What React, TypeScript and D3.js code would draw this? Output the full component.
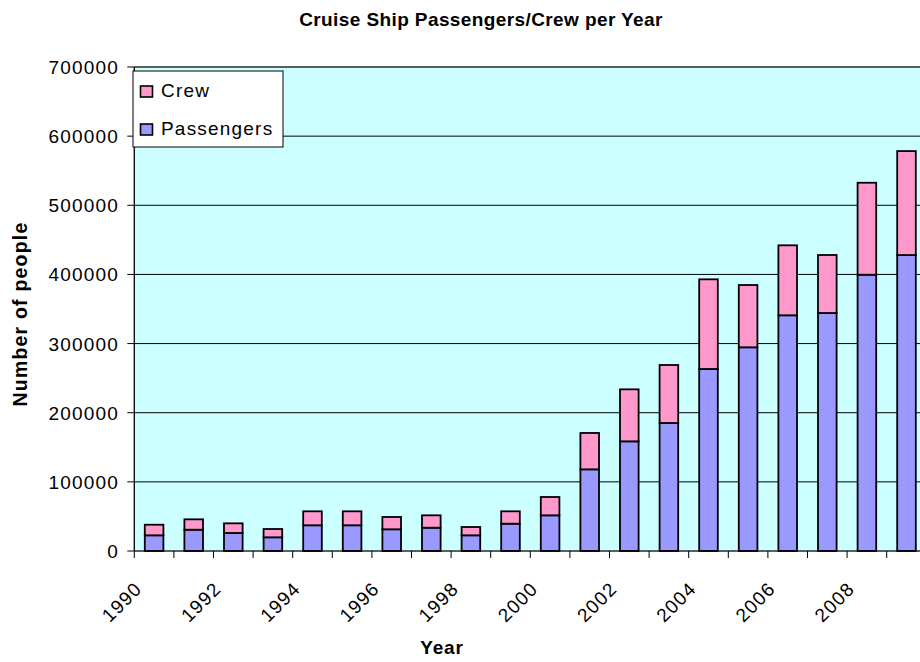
import React from "react";
import * as d3 from "d3";

const years = [1990, 1991, 1992, 1993, 1994, 1995, 1996, 1997, 1998, 1999, 2000, 2001, 2002, 2003, 2004, 2005, 2006, 2007, 2008, 2009];
const passengers = [22700, 30800, 26000, 19800, 37200, 37200, 31400, 33700, 22700, 39500, 51600, 118100, 158600, 185100, 263200, 294600, 340900, 344200, 399600, 428000];
const crew = [15300, 15000, 14000, 12000, 20200, 20200, 17800, 17900, 12000, 17900, 26500, 52600, 75200, 83900, 129700, 90100, 101200, 83900, 133000, 150400];
const yTicks = [0, 100000, 200000, 300000, 400000, 500000, 600000, 700000];
const xLabelYears = [1990, 1992, 1994, 1996, 1998, 2000, 2002, 2004, 2006, 2008];

const W = 920;
const H = 662;
const left = 134.3;
const right = 926.3;
const top = 67;
const bottom = 551;
const FONT = "'Liberation Sans', Arial, Helvetica, sans-serif";
const PASS = "#9999FF";
const CREW = "#FF99CC";

export default function App() {
  const x = d3
    .scaleBand<number>()
    .domain(years)
    .range([left, right])
    .paddingInner(0.53)
    .paddingOuter(0.265);
  const y = d3.scaleLinear().domain([0, 700000]).range([bottom, top]);
  const step = x.step();
  const bw = x.bandwidth();

  const stack = years.map((yr, i) => ({ yr, p: passengers[i], c: crew[i] }));

  return (
    <svg
      width={W}
      height={H}
      style={{ position: "absolute", left: 0, top: 0, background: "#fff" }}
      fontFamily={FONT}
    >
      {/* title */}
      <text x={481} y={26} textAnchor="middle" fontSize={19} fontWeight="bold" letterSpacing={0.4}>
        Cruise Ship Passengers/Crew per Year
      </text>

      {/* plot area */}
      <rect x={left} y={top} width={right - left} height={bottom - top} fill="#CCFFFF" stroke="#808080" strokeWidth={1} />

      {/* gridlines */}
      {yTicks.slice(1).map((t) => (
        <line key={"g" + t} x1={left} x2={right} y1={y(t)} y2={y(t)} stroke="#000" strokeWidth={1} />
      ))}

      {/* bars */}
      {stack.map((d) => (
        <g key={d.yr}>
          <rect
            x={x(d.yr)}
            y={y(d.p)}
            width={bw}
            height={y(0) - y(d.p)}
            fill={PASS}
            stroke="#000"
            strokeWidth={1.8}
          />
          <rect
            x={x(d.yr)}
            y={y(d.p + d.c)}
            width={bw}
            height={y(d.p) - y(d.p + d.c)}
            fill={CREW}
            stroke="#000"
            strokeWidth={1.8}
          />
        </g>
      ))}

      {/* y axis */}
      <line x1={left} x2={left} y1={top} y2={bottom} stroke="#000" strokeWidth={1.2} />
      {yTicks.map((t) => (
        <g key={"yt" + t}>
          <line x1={left - 7} x2={left} y1={y(t)} y2={y(t)} stroke="#000" strokeWidth={1} />
          <text x={119} y={y(t) + 7} textAnchor="end" fontSize={19} letterSpacing={1.2}>
            {t}
          </text>
        </g>
      ))}

      {/* x axis */}
      <line x1={left} x2={right} y1={bottom} y2={bottom} stroke="#000" strokeWidth={1.2} />
      {years.map((yr) => (
        <line
          key={"xt" + yr}
          x1={(x(yr) as number) - (step - bw) / 2}
          x2={(x(yr) as number) - (step - bw) / 2}
          y1={bottom}
          y2={bottom + 7}
          stroke="#000"
          strokeWidth={1}
        />
      ))}
      {xLabelYears.map((yr) => {
        const cx = (x(yr) as number) + bw / 2;
        return (
          <text
            key={"xl" + yr}
            transform={`translate(${cx - 11},${590}) rotate(-45)`}
            textAnchor="end"
            fontSize={19}
            letterSpacing={1.2}
          >
            {yr}
          </text>
        );
      })}

      {/* axis titles */}
      <text x={442} y={654} textAnchor="middle" fontSize={19} fontWeight="bold" letterSpacing={0.8}>
        Year
      </text>
      <text
        transform={`translate(27,314) rotate(-90)`}
        textAnchor="middle"
        fontSize={19.5}
        fontWeight="bold"
        letterSpacing={1.2}
      >
        Number of people
      </text>

      {/* legend */}
      <rect x={133} y={71} width={150} height={76} fill="#fff" stroke="#000" strokeWidth={1} />
      <rect x={140.5} y={86} width={12} height={11} fill={CREW} stroke="#000" strokeWidth={1.6} />
      <text x={161} y={97} fontSize={19} letterSpacing={1.2}>
        Crew
      </text>
      <rect x={140.5} y={124} width={12} height={11} fill={PASS} stroke="#000" strokeWidth={1.6} />
      <text x={161} y={135} fontSize={19} letterSpacing={1.2}>
        Passengers
      </text>
    </svg>
  );
}
